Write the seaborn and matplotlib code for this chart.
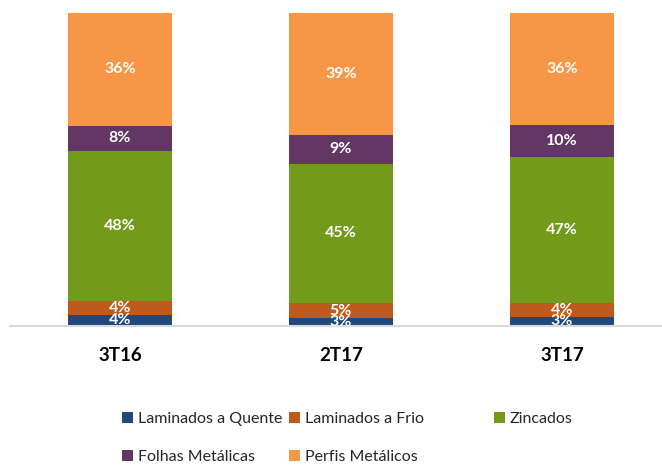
import pandas as pd
import matplotlib.pyplot as plt
import seaborn as sns
from matplotlib.patches import Patch

# Dados (participação % por trimestre)
periodos = ["3T16", "2T17", "3T17"]
series = ["Laminados a Quente", "Laminados a Frio", "Zincados",
          "Folhas Metálicas", "Perfis Metálicos"]
laminados_quente = [3.6, 2.6, 2.9]
laminados_frio = [4.4, 4.7, 4.4]
zincados = [48.0, 44.6, 46.8]
folhas_metalicas = [7.9, 9.1, 10.0]
perfis_metalicos = [36.1, 39.0, 35.9]
cores = ["#1F497D", "#BE5A1E", "#739A1B", "#633763", "#F79646"]

sns.set_theme(style="white")
plt.rcParams['font.family'] = ['Lato', 'DejaVu Sans']

df = pd.DataFrame({
    "periodo": periodos,
    series[0]: laminados_quente,
    series[1]: laminados_frio,
    series[2]: zincados,
    series[3]: folhas_metalicas,
    series[4]: perfis_metalicos,
})
cum = df[series].cumsum(axis=1)

fig = plt.figure(figsize=(6.62, 4.65), dpi=100)
ax = fig.add_axes([9.5 / 662, 139 / 465, 663 / 662, 313 / 465])

# barras empilhadas: desenhar do acumulado maior para o menor
for serie, cor in reversed(list(zip(series, cores))):
    sns.barplot(x=df["periodo"], y=cum[serie], color=cor, width=0.47,
                ax=ax, saturation=1, linewidth=0)

# rótulos de percentagem
for i in range(len(df)):
    base = 0
    for serie in series:
        v = df.loc[i, serie]
        ax.text(i, base + v / 2, f"{v:.0f}%", ha="center", va="center",
                color="white", fontsize=11.5, fontweight="bold", clip_on=True)
        base += v

ax.set_ylim(0, 100)
ax.set_xlim(-0.5, 2.5)
ax.set_xlabel("")
ax.set_ylabel("")
ax.set_yticks([])
for s in ["top", "right", "left"]:
    ax.spines[s].set_visible(False)
ax.spines["bottom"].set_color("#D9D9D9")
ax.spines["bottom"].set_linewidth(1.5)
ax.tick_params(axis="x", length=0, pad=15)
for lbl in ax.get_xticklabels():
    lbl.set_fontsize(13.5)
    lbl.set_fontweight("bold")
    lbl.set_color("black")

# legenda
h = [Patch(facecolor=c, edgecolor="none") for c in cores]
leg_kw = dict(frameon=False, fontsize=11.5, handlelength=0.7, handleheight=0.7,
              handletextpad=0.3, borderpad=0, borderaxespad=0)
fig.legend([h[0], h[3], h[1], h[4]],
           [series[0], series[3], series[1], series[4]],
           ncol=2, loc="center left", bbox_to_anchor=(122 / 662, 1 - 438 / 465),
           labelspacing=1.5, columnspacing=0.4, **leg_kw)
fig.legend([h[2]], [series[2]], loc="center left",
           bbox_to_anchor=(494 / 662, 1 - 419 / 465), **leg_kw)

fig.savefig("out.png", dpi=100)
plt.close(fig)
